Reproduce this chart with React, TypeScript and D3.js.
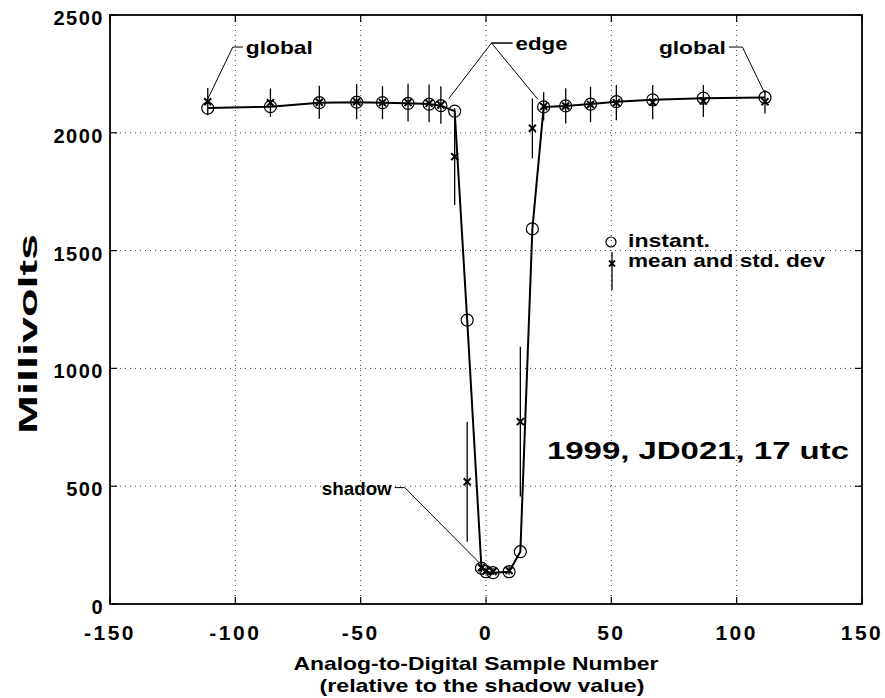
import React from "react";
import * as d3 from "d3";

// ---- data ----
const sampleNumber = [-111, -86, -66.5, -51.6, -41.3, -31.1, -22.7, -18, -12.5, -7.5, -1.8, 0, 2.8, 9.2, 13.7, 18.5, 23, 31.8, 41.7, 52, 66.5, 86.7, 111.3];
const instantMv = [2105, 2111, 2128, 2130, 2128, 2125, 2122, 2115, 2092, 1205, 152, 137, 133, 137, 222, 1592, 2110, 2114, 2122, 2132, 2140, 2147, 2150];
const meanMv = [2132, 2128, 2130, 2132, 2128, 2128, 2125, 2118, 1899, 519, 155, 140, 138, 142, 774, 2019, 2112, 2114, 2120, 2128, 2130, 2135, 2132];
const stdMv = [58, 60, 70, 75, 70, 80, 80, 80, 205, 255, 20, 15, 15, 18, 318, 127, 60, 75, 75, 75, 73, 68, 50];

const xTicks = [-150, -100, -50, 0, 50, 100, 150];
const yTicks = [0, 500, 1000, 1500, 2000, 2500];
const xGrid = [-100, -50, 0, 50, 100];
const yGrid = [500, 1000, 1500, 2000];

const xLabelLines = ["Analog-to-Digital Sample Number", "(relative to the shadow value)"];
const yLabel = "Millivolts";
const legendLabels = ["instant.", "mean and std. dev"];
const dateNote = "1999, JD021, 17 utc";

// callouts: text, leader path points (data units) ending at targets
const calloutLabels = ["global", "edge", "global", "shadow"];
const calloutElbows: [number, number][][] = [
  [[-97, 2364], [-101, 2364]],
  [[10.6, 2381], [2.2, 2381]],
  [[96.9, 2364], [102.3, 2364]],
  [[-36.4, 494], [-32.4, 494]],
];
const calloutTargets: [number, number][][] = [
  [[-111.2, 2139]],
  [[-14.8, 2146], [20.7, 2142]],
  [[111.2, 2168]],
  [[-2.5, 173]],
];
const calloutAnchors = ["start", "start", "end", "end"];
const calloutLengths = [67, 52, 67, 70];

const FONT = "'Liberation Sans', Arial, Helvetica, sans-serif";

export default function App() {
  const W = 885, H = 698;
  const x = d3.scaleLinear().domain([-150, 150]).range([110, 862]);
  const y = d3.scaleLinear().domain([0, 2500]).range([604, 15]);
  const [x0, x1] = x.range();
  const [yb, yt] = y.range();

  const pts = sampleNumber.map((s, i) => [s, instantMv[i]] as [number, number]);
  const linePath = d3.line<[number, number]>().x(d => x(d[0])).y(d => y(d[1]))(pts) || "";

  const tickLen = 7;
  const txt = { fontFamily: FONT, fontWeight: 700 as const, fill: "#000" };

  return (
    <svg width={W} height={H} style={{ position: "absolute", left: 0, top: 0, background: "#fff" }}>
      <rect x={0} y={0} width={W} height={H} fill="#fff" />
      {/* grid */}
      {xGrid.map(v => (
        <line key={"gx" + v} x1={x(v)} x2={x(v)} y1={yt} y2={yb} stroke="#444" strokeWidth={1} strokeDasharray="1 4" />
      ))}
      {yGrid.map(v => (
        <line key={"gy" + v} x1={x0} x2={x1} y1={y(v)} y2={y(v)} stroke="#444" strokeWidth={1} strokeDasharray="1 4" />
      ))}

      {/* data line through instant values */}
      <path d={linePath} fill="none" stroke="#000" strokeWidth={2} />

      {/* error bars */}
      {sampleNumber.map((s, i) => (
        <line key={"eb" + i} x1={x(s)} x2={x(s)} y1={y(meanMv[i] - stdMv[i])} y2={y(meanMv[i] + stdMv[i])} stroke="#000" strokeWidth={1.3} />
      ))}
      {/* instant circles */}
      {sampleNumber.map((s, i) => (
        <circle key={"c" + i} cx={x(s)} cy={y(instantMv[i])} r={6} fill="none" stroke="#000" strokeWidth={1.2} />
      ))}
      {/* mean x markers */}
      {sampleNumber.map((s, i) => {
        const cx = x(s), cy = y(meanMv[i]), k = 3.5;
        return (
          <g key={"m" + i} stroke="#000" strokeWidth={2}>
            <line x1={cx - k} y1={cy - k} x2={cx + k} y2={cy + k} />
            <line x1={cx - k} y1={cy + k} x2={cx + k} y2={cy - k} />
          </g>
        );
      })}

      {/* axes box */}
      <rect x={x0} y={yt} width={x1 - x0} height={yb - yt} fill="none" stroke="#000" strokeWidth={1.8} />
      {xTicks.map(v => (
        <g key={"xt" + v} stroke="#000" strokeWidth={1.2}>
          <line x1={x(v)} x2={x(v)} y1={yb} y2={yb - tickLen} />
          <line x1={x(v)} x2={x(v)} y1={yt} y2={yt + tickLen} />
        </g>
      ))}
      {yTicks.map(v => (
        <g key={"yt" + v} stroke="#000" strokeWidth={1.2}>
          <line x1={x0} x2={x0 + tickLen} y1={y(v)} y2={y(v)} />
          <line x1={x1} x2={x1 - tickLen} y1={y(v)} y2={y(v)} />
        </g>
      ))}

      {/* tick labels */}
      {xTicks.map(v => (
        <text key={"xl" + v} x={x(v)} y={yb + 36} textAnchor="middle" fontSize={21} letterSpacing={2.5} {...txt}>{v}</text>
      ))}
      {yTicks.map(v => (
        <text key={"yl" + v} x={x0 - 6} y={y(v) + 10} textAnchor="end" fontSize={20} letterSpacing={1.5} {...txt}>{v}</text>
      ))}

      {/* axis labels */}
      <text x={476} y={670} textAnchor="middle" fontSize={19} textLength={365} lengthAdjust="spacingAndGlyphs" {...txt}>{xLabelLines[0]}</text>
      <text x={482} y={692} textAnchor="middle" fontSize={19} textLength={325} lengthAdjust="spacingAndGlyphs" {...txt}>{xLabelLines[1]}</text>
      <text transform={`translate(37,${334}) rotate(-90)`} textAnchor="middle" fontSize={25} textLength={200} lengthAdjust="spacingAndGlyphs" {...txt}>{yLabel}</text>

      {/* legend */}
      <circle cx={611} cy={242} r={5} fill="none" stroke="#000" strokeWidth={1.2} />
      <text x={628} y={247} fontSize={19} textLength={82} lengthAdjust="spacingAndGlyphs" {...txt}>{legendLabels[0]}</text>
      <line x1={612} x2={612} y1={252} y2={290} stroke="#000" strokeWidth={1.3} />
      <g stroke="#000" strokeWidth={1.8}>
        <line x1={609} y1={260.5} x2={615} y2={266.5} />
        <line x1={609} y1={266.5} x2={615} y2={260.5} />
      </g>
      <text x={628} y={267} fontSize={19} textLength={197} lengthAdjust="spacingAndGlyphs" {...txt}>{legendLabels[1]}</text>

      {/* date note */}
      <text x={547} y={459} fontSize={24} textLength={302} lengthAdjust="spacingAndGlyphs" {...txt}>{dateNote}</text>

      {/* callouts */}
      {calloutLabels.map((lab, i) => {
        const el = calloutElbows[i];
        const start = el[0];
        const elbow = el[1];
        const pathPts = calloutTargets[i].map(t => [start, elbow, t]);
        const anchor = calloutAnchors[i];
        const tx = x(start[0]) + (anchor === "start" ? 3 : -3);
        return (
          <g key={"co" + i}>
            {pathPts.map((pp, j) => (
              <polyline key={j} points={pp.map(p => `${x(p[0])},${y(p[1])}`).join(" ")} fill="none" stroke="#000" strokeWidth={1} />
            ))}
            <text x={tx} y={y(start[1]) + 7} textAnchor={anchor as any} fontSize={19} textLength={calloutLengths[i]} lengthAdjust="spacingAndGlyphs" {...txt}>{lab}</text>
          </g>
        );
      })}
    </svg>
  );
}
